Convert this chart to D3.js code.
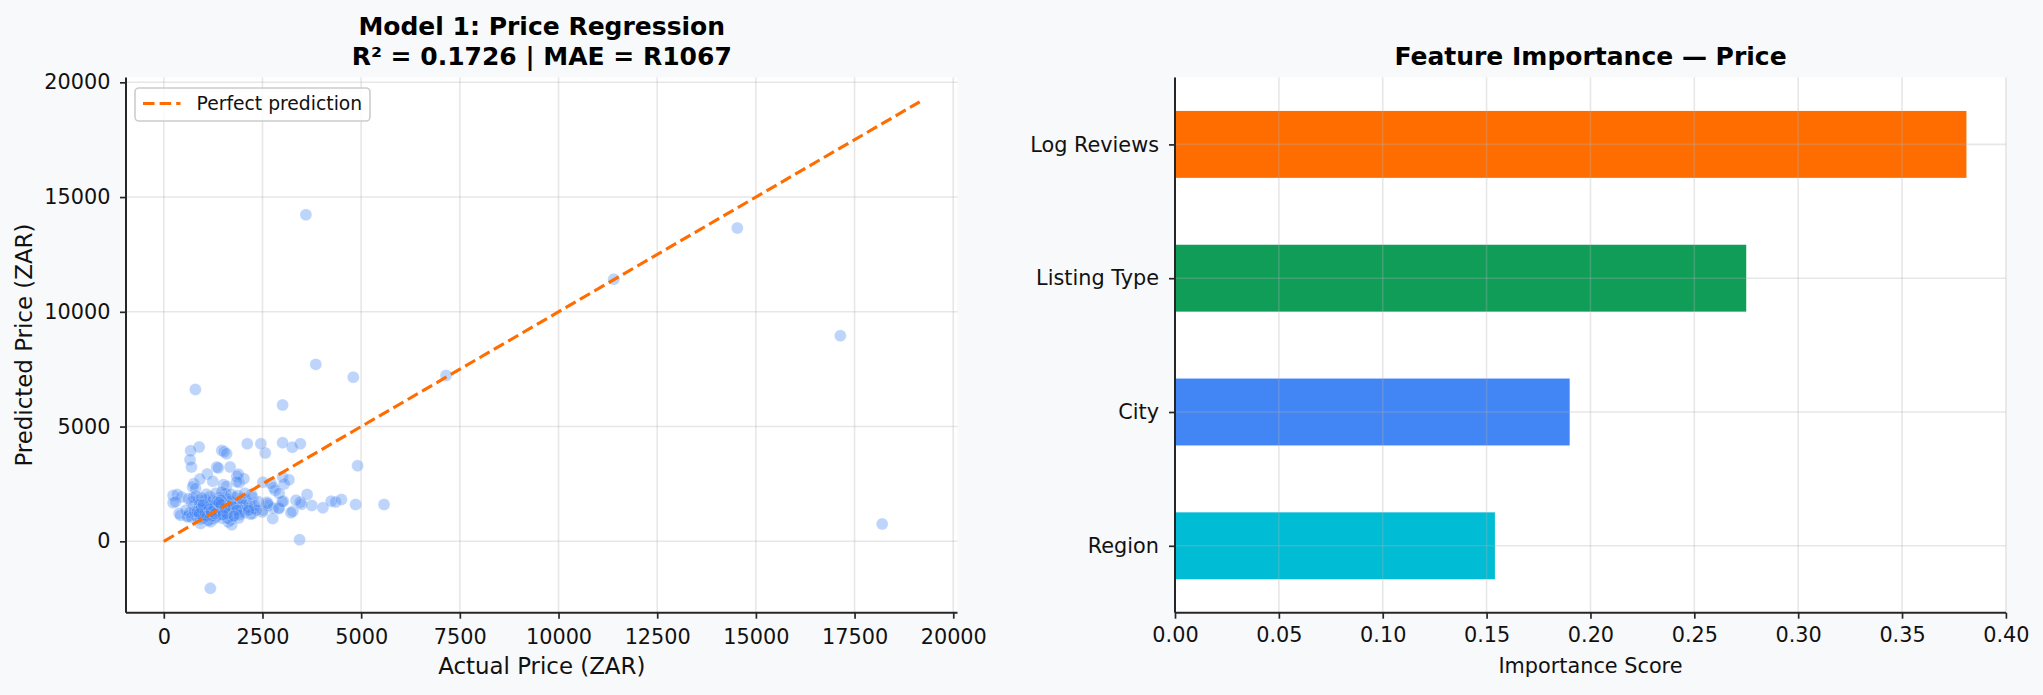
<!DOCTYPE html>
<html><head><meta charset="utf-8">
<script src="https://cdn.jsdelivr.net/npm/d3@7"></script>
<style>
html,body{margin:0;padding:0;background:#f8f9fa;}
svg{display:block;font-family:"DejaVu Sans",sans-serif;}
</style>
</head><body>
<svg id="chart" width="2043" height="695"></svg>
<script>
// ---------------- DATA ----------------
// [actual price, predicted price]
const scatterPoints = [
 [3600,14230],[14530,13650],[11400,11420],[17140,8960],[18200,760],[3850,7710],[4800,7150],[7150,7230],
 [800,6620],[3010,5935],[4910,3290],[5580,1600],[4860,1600],[3440,70],[1180,-2050],
 [3460,4250],[3255,4100],[3010,4300],[2570,3850],[2460,4250],[2115,4250],[895,4110],[680,3950],[665,3555],
 [700,3235],[1470,3960],[1530,3900],[1590,3820],[1340,3240],[1380,3200],[1680,3240],[1100,2935],[760,2510],
 [730,2370],[915,2715],[1240,2620],[1510,2470],[1590,2400],[1850,2840],[2030,2730],[1910,2560],[2510,2570],
 [2780,2330],[2820,2230],[3010,2800],[3050,2500],[3170,2680],[1890,2920],
 [2610,1705],[2650,1560],[2770,1450],[2910,1460],[3030,1750],[2760,990],[3270,1315],[3220,1240],[3460,1705],
 [3490,1620],[3630,2040],[3750,1560],[4030,1460],[4240,1750],[4350,1710],[4500,1820],[2510,1360],[2250,1210],
 [2230,1420],[1975,1315],[1950,1530],[2500,1280],[2290,1430],[2630,1650],[2920,1430],[3350,1790],[3000,1720],
 [237,1994],[340,2037],[450,1936],[237,1676],[390,1214],[620,1100],[932,780],[1153,954],[1720,722],[1636,838],
 [297,1720],[424,1139],[593,1066],[1186,848],[1695,921],[805,2300],[1568,2083],[2712,2519],[2924,2083],[1848,2592],
 [620,1850],[700,1720],[760,1560],[820,1980],[870,1400],[910,1250],[950,1690],[990,1110],[1020,1520],[1060,1820],
 [1090,1330],[1120,1040],[1150,1610],[1180,1200],[1210,1450],[1240,1760],[1270,980],[1300,1350],[1330,1580],
 [1360,1130],[1390,1900],[1420,1270],[1450,1490],[1480,1010],[1510,1700],[1540,1380],[1570,1150],[1600,1560],
 [1630,1830],[1660,1260],[1690,1470],[1720,1080],[1750,1650],[1780,1330],[1810,1900],[1840,1200],[1870,1540],
 [1900,1020],[1930,1720],[1960,1390],[2000,1600],[2040,1250],[2080,1800],[2120,1470],[2160,1650],[2200,1180],
 [2250,1900],[2300,1560],[2350,1350],[2400,1720],
 [800,1150],[850,1050],[880,1800],[930,950],[1000,1350],[1050,1150],[1100,1600],[1130,900],[1200,1700],[1250,1250],
 [1280,1500],[1310,1050],[1380,1650],[1440,1150],[1500,1300],[1550,1900],[1620,1000],[1650,1400],[1700,1750],
 [1760,1500],[1850,1350],[1920,1150],[1980,1850],[560,1350],[650,1250],[700,1050],[740,1900],[780,1300],
 [1080,2050],[1160,1950],[1320,2100],[1470,2150],[1700,2050],[1870,2000],[2050,2100],[2220,2050],[960,1900],
 [1400,1450],[1230,1100],[1600,1200],[1350,1750],[1000,1000],[900,1600],[1450,1800],[1780,1100],[2150,1350],
 [850,1300],[950,1450],[1050,1250],[1150,1400],[1250,1550],[1350,1300],[1450,1600],[1550,1450],[1000,1600],
 [1100,1100],[1200,1300],[1300,1200],[1400,1700],[1500,1150],[900,1200]
];
const perfectLine = [0, 19150];
const xTicksLeft = [0,2500,5000,7500,10000,12500,15000,17500,20000];
const yTicksLeft = [0,5000,10000,15000,20000];
const leftTitle = ["Model 1: Price Regression", "R\u00b2 = 0.1726 | MAE = R1067"];
const leftXLabel = "Actual Price (ZAR)";
const leftYLabel = "Predicted Price (ZAR)";
const legendLabel = "Perfect prediction";

const features = ["Region","City","Listing Type","Log Reviews"];
const importance = [0.154, 0.190, 0.275, 0.381];
const xTicksRight = [0,0.05,0.10,0.15,0.20,0.25,0.30,0.35,0.40];
const rightTitle = "Feature Importance \u2014 Price";
const rightXLabel = "Importance Score";

// ---------------- STYLE ----------------
const featureColors = ["#00bcd4","#4285f4","#0f9d58","#ff6d00"];
const pointColor = "#4285f4";
const lineColor = "#ff6d00";
const spineColor = "#262626";
const gridColor = "#b0b0b0";
const tickFont = 20.8;

const svg = d3.select("#chart");
svg.append("rect").attr("width",2043).attr("height",695).attr("fill","#f8f9fa");

function styleAxis(g){
  g.select(".domain").attr("stroke",spineColor).attr("stroke-width",2);
  g.selectAll(".tick line").attr("stroke",spineColor).attr("stroke-width",1.7);
  g.selectAll(".tick text").attr("fill","#111").style("font-size",tickFont+"px").style("font-family","DejaVu Sans");
}

// ================= LEFT: scatter =================
const LB = {x0:126, x1:957.5, y0:77.5, y1:612.7};
const xs = scatterPoints.map(d=>d[0]), ys = scatterPoints.map(d=>d[1]);
let xmin = Math.min(perfectLine[0], d3.min(xs)), xmax = Math.max(perfectLine[1], d3.max(xs));
let ymin = Math.min(perfectLine[0], d3.min(ys)), ymax = Math.max(perfectLine[1], d3.max(ys));
const xpad = (xmax-xmin)*0.05, ypad = (ymax-ymin)*0.05;
const x1 = d3.scaleLinear().domain([xmin-xpad, xmax+xpad]).range([LB.x0, LB.x1]);
const y1 = d3.scaleLinear().domain([ymin-ypad, ymax+ypad]).range([LB.y1, LB.y0]);

svg.append("rect").attr("x",LB.x0).attr("y",LB.y0).attr("width",LB.x1-LB.x0).attr("height",LB.y1-LB.y0).attr("fill","#ffffff");

const gL = svg.append("g");
gL.selectAll("circle").data(scatterPoints).join("circle")
  .attr("cx",d=>x1(d[0])).attr("cy",d=>y1(d[1])).attr("r",6)
  .attr("fill",pointColor).attr("fill-opacity",0.35)
  .attr("stroke","#ffffff").attr("stroke-opacity",0.35).attr("stroke-width",0.7);

// grid (above points, below line)
const gridL = svg.append("g").attr("stroke",gridColor).attr("stroke-opacity",0.3).attr("stroke-width",1.6);
gridL.selectAll("line.v").data(xTicksLeft).join("line").attr("class","v")
  .attr("x1",d=>x1(d)).attr("x2",d=>x1(d)).attr("y1",LB.y0).attr("y2",LB.y1);
gridL.selectAll("line.h").data(yTicksLeft).join("line").attr("class","h")
  .attr("y1",d=>y1(d)).attr("y2",d=>y1(d)).attr("x1",LB.x0).attr("x2",LB.x1);

// perfect prediction line
svg.append("line")
  .attr("x1",x1(perfectLine[0])).attr("y1",y1(perfectLine[0]))
  .attr("x2",x1(perfectLine[1])).attr("y2",y1(perfectLine[1]))
  .attr("stroke",lineColor).attr("stroke-width",3.1).attr("stroke-dasharray","11.6,5");

// axes
const axXL = svg.append("g").attr("transform",`translate(0,${LB.y1})`)
  .call(d3.axisBottom(x1).tickValues(xTicksLeft).tickFormat(d3.format("d")).tickSize(6).tickSizeOuter(0).tickPadding(10.5));
styleAxis(axXL);
const axYL = svg.append("g").attr("transform",`translate(${LB.x0},0)`)
  .call(d3.axisLeft(y1).tickValues(yTicksLeft).tickFormat(d3.format("d")).tickSize(6).tickSizeOuter(0).tickPadding(9.5));
styleAxis(axYL);
axYL.select(".domain").attr("d",`M0,${LB.y1}V${LB.y0}`);
axXL.select(".domain").attr("d",`M${LB.x0},0H${LB.x1}`);

// labels
const cxL = (LB.x0+LB.x1)/2;
svg.append("text").attr("x",cxL).attr("y",35).attr("text-anchor","middle")
  .style("font-size","25px").style("font-weight","bold").attr("fill","#000").text(leftTitle[0]);
svg.append("text").attr("x",cxL).attr("y",65).attr("text-anchor","middle")
  .style("font-size","25px").style("font-weight","bold").attr("fill","#000").text(leftTitle[1]);
svg.append("text").attr("x",cxL).attr("y",674).attr("text-anchor","middle")
  .style("font-size","22.9px").attr("fill","#111").text(leftXLabel);
svg.append("text").attr("transform",`translate(32.3,${(LB.y0+LB.y1)/2}) rotate(-90)`).attr("text-anchor","middle")
  .style("font-size","22.9px").attr("fill","#111").text(leftYLabel);

// legend
const lg = svg.append("g");
lg.append("rect").attr("x",135).attr("y",88).attr("width",235).attr("height",33).attr("rx",4)
  .attr("fill","#ffffff").attr("fill-opacity",0.8).attr("stroke","#cccccc").attr("stroke-width",1.6);
lg.append("line").attr("x1",143).attr("x2",180.5).attr("y1",103.5).attr("y2",103.5)
  .attr("stroke",lineColor).attr("stroke-width",3.1).attr("stroke-dasharray","11.6,5");
lg.append("text").attr("x",196.5).attr("y",110).style("font-size","18.75px").attr("fill","#111").text(legendLabel);

// ================= RIGHT: bars =================
const RB = {x0:1175, x1:2006, y0:77.5, y1:612.7};
const x2 = d3.scaleLinear().domain([0, d3.max(importance)*1.05]).range([RB.x0, RB.x1]);
const y2 = d3.scaleLinear().domain([-0.5, features.length-0.5]).range([RB.y1, RB.y0]);

svg.append("rect").attr("x",RB.x0).attr("y",RB.y0).attr("width",RB.x1-RB.x0).attr("height",RB.y1-RB.y0).attr("fill","#ffffff");

svg.append("g").selectAll("rect").data(features).join("rect")
  .attr("x",x2(0)).attr("width",(d,i)=>x2(importance[i])-x2(0))
  .attr("y",(d,i)=>y2(i+0.25)).attr("height",(d,i)=>y2(i-0.25)-y2(i+0.25))
  .attr("fill",(d,i)=>featureColors[i]);

const gridR = svg.append("g").attr("stroke",gridColor).attr("stroke-opacity",0.3).attr("stroke-width",1.6);
gridR.selectAll("line.v").data(xTicksRight).join("line").attr("class","v")
  .attr("x1",d=>x2(d)).attr("x2",d=>x2(d)).attr("y1",RB.y0).attr("y2",RB.y1);
gridR.selectAll("line.h").data(features).join("line").attr("class","h")
  .attr("y1",(d,i)=>y2(i)).attr("y2",(d,i)=>y2(i)).attr("x1",RB.x0).attr("x2",RB.x1);

const axXR = svg.append("g").attr("transform",`translate(0,${RB.y1})`)
  .call(d3.axisBottom(x2).tickValues(xTicksRight).tickFormat(d3.format(".2f")).tickSize(6).tickSizeOuter(0).tickPadding(9));
styleAxis(axXR);
axXR.select(".domain").attr("d",`M${RB.x0},0H${RB.x1}`);
const axYR = svg.append("g").attr("transform",`translate(${RB.x0},0)`)
  .call(d3.axisLeft(y2).tickValues(d3.range(features.length)).tickFormat(i=>features[i]).tickSize(6).tickSizeOuter(0).tickPadding(10));
styleAxis(axYR);
axYR.select(".domain").attr("d",`M0,${RB.y1}V${RB.y0}`);

const cxR = (RB.x0+RB.x1)/2;
svg.append("text").attr("x",cxR).attr("y",65).attr("text-anchor","middle")
  .style("font-size","25px").style("font-weight","bold").attr("fill","#000").text(rightTitle);
svg.append("text").attr("x",cxR).attr("y",672.7).attr("text-anchor","middle")
  .style("font-size","20.8px").attr("fill","#111").text(rightXLabel);
</script>
</body></html>
